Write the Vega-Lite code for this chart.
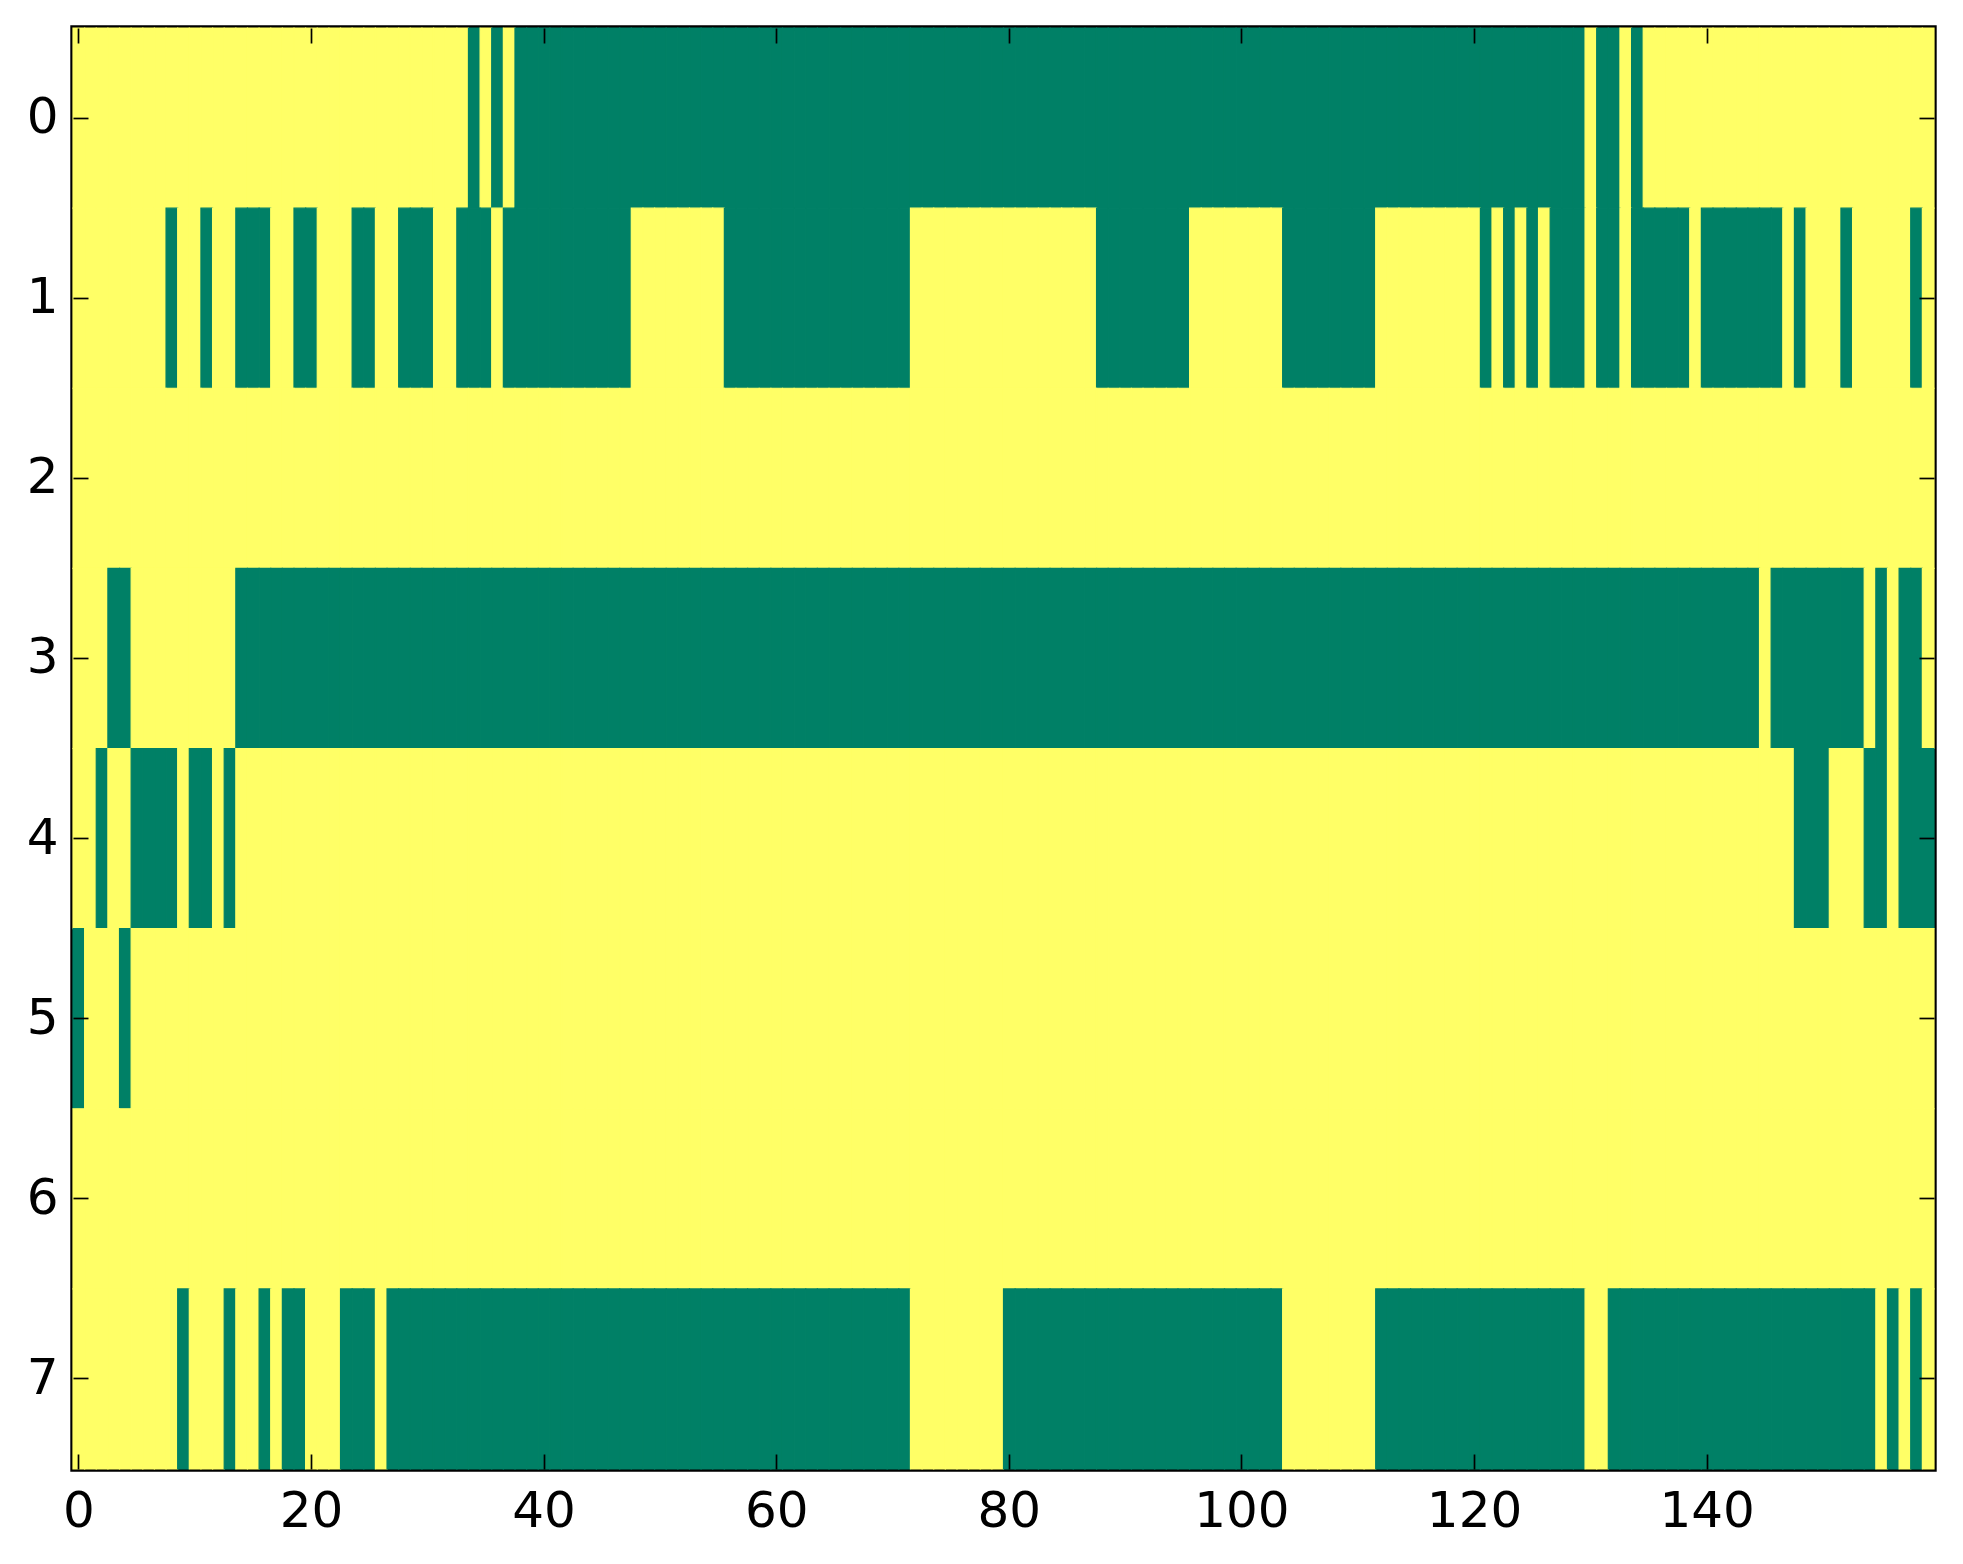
{
"$schema": "https://vega.github.io/schema/vega-lite/v6.json",
"width": 1861,
"height": 1441,
"autosize": {"type": "none"},
"padding": {"left": 73, "top": 28, "right": 29, "bottom": 95},
"background": "white",
"config": {
  "view": {"stroke": "black", "strokeWidth": 5.4},
  "axis": {"labelFont": "DejaVu Sans", "labelFontSize": 50, "labelColor": "black", "tickColor": "black", "tickWidth": 1.7, "tickSize": -15, "domain": false, "grid": false, "title": null}
},
"data": {"values": [
{"r":0,"c":0,"v":1},{"r":0,"c":1,"v":1},{"r":0,"c":2,"v":1},{"r":0,"c":3,"v":1},{"r":0,"c":4,"v":1},{"r":0,"c":5,"v":1},{"r":0,"c":6,"v":1},{"r":0,"c":7,"v":1},{"r":0,"c":8,"v":1},{"r":0,"c":9,"v":1},
{"r":0,"c":10,"v":1},{"r":0,"c":11,"v":1},{"r":0,"c":12,"v":1},{"r":0,"c":13,"v":1},{"r":0,"c":14,"v":1},{"r":0,"c":15,"v":1},{"r":0,"c":16,"v":1},{"r":0,"c":17,"v":1},{"r":0,"c":18,"v":1},{"r":0,"c":19,"v":1},
{"r":0,"c":20,"v":1},{"r":0,"c":21,"v":1},{"r":0,"c":22,"v":1},{"r":0,"c":23,"v":1},{"r":0,"c":24,"v":1},{"r":0,"c":25,"v":1},{"r":0,"c":26,"v":1},{"r":0,"c":27,"v":1},{"r":0,"c":28,"v":1},{"r":0,"c":29,"v":1},
{"r":0,"c":30,"v":1},{"r":0,"c":31,"v":1},{"r":0,"c":32,"v":1},{"r":0,"c":33,"v":1},{"r":0,"c":34,"v":0},{"r":0,"c":35,"v":1},{"r":0,"c":36,"v":0},{"r":0,"c":37,"v":1},{"r":0,"c":38,"v":0},{"r":0,"c":39,"v":0},
{"r":0,"c":40,"v":0},{"r":0,"c":41,"v":0},{"r":0,"c":42,"v":0},{"r":0,"c":43,"v":0},{"r":0,"c":44,"v":0},{"r":0,"c":45,"v":0},{"r":0,"c":46,"v":0},{"r":0,"c":47,"v":0},{"r":0,"c":48,"v":0},{"r":0,"c":49,"v":0},
{"r":0,"c":50,"v":0},{"r":0,"c":51,"v":0},{"r":0,"c":52,"v":0},{"r":0,"c":53,"v":0},{"r":0,"c":54,"v":0},{"r":0,"c":55,"v":0},{"r":0,"c":56,"v":0},{"r":0,"c":57,"v":0},{"r":0,"c":58,"v":0},{"r":0,"c":59,"v":0},
{"r":0,"c":60,"v":0},{"r":0,"c":61,"v":0},{"r":0,"c":62,"v":0},{"r":0,"c":63,"v":0},{"r":0,"c":64,"v":0},{"r":0,"c":65,"v":0},{"r":0,"c":66,"v":0},{"r":0,"c":67,"v":0},{"r":0,"c":68,"v":0},{"r":0,"c":69,"v":0},
{"r":0,"c":70,"v":0},{"r":0,"c":71,"v":0},{"r":0,"c":72,"v":0},{"r":0,"c":73,"v":0},{"r":0,"c":74,"v":0},{"r":0,"c":75,"v":0},{"r":0,"c":76,"v":0},{"r":0,"c":77,"v":0},{"r":0,"c":78,"v":0},{"r":0,"c":79,"v":0},
{"r":0,"c":80,"v":0},{"r":0,"c":81,"v":0},{"r":0,"c":82,"v":0},{"r":0,"c":83,"v":0},{"r":0,"c":84,"v":0},{"r":0,"c":85,"v":0},{"r":0,"c":86,"v":0},{"r":0,"c":87,"v":0},{"r":0,"c":88,"v":0},{"r":0,"c":89,"v":0},
{"r":0,"c":90,"v":0},{"r":0,"c":91,"v":0},{"r":0,"c":92,"v":0},{"r":0,"c":93,"v":0},{"r":0,"c":94,"v":0},{"r":0,"c":95,"v":0},{"r":0,"c":96,"v":0},{"r":0,"c":97,"v":0},{"r":0,"c":98,"v":0},{"r":0,"c":99,"v":0},
{"r":0,"c":100,"v":0},{"r":0,"c":101,"v":0},{"r":0,"c":102,"v":0},{"r":0,"c":103,"v":0},{"r":0,"c":104,"v":0},{"r":0,"c":105,"v":0},{"r":0,"c":106,"v":0},{"r":0,"c":107,"v":0},{"r":0,"c":108,"v":0},{"r":0,"c":109,"v":0},
{"r":0,"c":110,"v":0},{"r":0,"c":111,"v":0},{"r":0,"c":112,"v":0},{"r":0,"c":113,"v":0},{"r":0,"c":114,"v":0},{"r":0,"c":115,"v":0},{"r":0,"c":116,"v":0},{"r":0,"c":117,"v":0},{"r":0,"c":118,"v":0},{"r":0,"c":119,"v":0},
{"r":0,"c":120,"v":0},{"r":0,"c":121,"v":0},{"r":0,"c":122,"v":0},{"r":0,"c":123,"v":0},{"r":0,"c":124,"v":0},{"r":0,"c":125,"v":0},{"r":0,"c":126,"v":0},{"r":0,"c":127,"v":0},{"r":0,"c":128,"v":0},{"r":0,"c":129,"v":0},
{"r":0,"c":130,"v":1},{"r":0,"c":131,"v":0},{"r":0,"c":132,"v":0},{"r":0,"c":133,"v":1},{"r":0,"c":134,"v":0},{"r":0,"c":135,"v":1},{"r":0,"c":136,"v":1},{"r":0,"c":137,"v":1},{"r":0,"c":138,"v":1},{"r":0,"c":139,"v":1},
{"r":0,"c":140,"v":1},{"r":0,"c":141,"v":1},{"r":0,"c":142,"v":1},{"r":0,"c":143,"v":1},{"r":0,"c":144,"v":1},{"r":0,"c":145,"v":1},{"r":0,"c":146,"v":1},{"r":0,"c":147,"v":1},{"r":0,"c":148,"v":1},{"r":0,"c":149,"v":1},
{"r":0,"c":150,"v":1},{"r":0,"c":151,"v":1},{"r":0,"c":152,"v":1},{"r":0,"c":153,"v":1},{"r":0,"c":154,"v":1},{"r":0,"c":155,"v":1},{"r":0,"c":156,"v":1},{"r":0,"c":157,"v":1},{"r":0,"c":158,"v":1},{"r":0,"c":159,"v":1},
{"r":1,"c":0,"v":1},{"r":1,"c":1,"v":1},{"r":1,"c":2,"v":1},{"r":1,"c":3,"v":1},{"r":1,"c":4,"v":1},{"r":1,"c":5,"v":1},{"r":1,"c":6,"v":1},{"r":1,"c":7,"v":1},{"r":1,"c":8,"v":0},{"r":1,"c":9,"v":1},
{"r":1,"c":10,"v":1},{"r":1,"c":11,"v":0},{"r":1,"c":12,"v":1},{"r":1,"c":13,"v":1},{"r":1,"c":14,"v":0},{"r":1,"c":15,"v":0},{"r":1,"c":16,"v":0},{"r":1,"c":17,"v":1},{"r":1,"c":18,"v":1},{"r":1,"c":19,"v":0},
{"r":1,"c":20,"v":0},{"r":1,"c":21,"v":1},{"r":1,"c":22,"v":1},{"r":1,"c":23,"v":1},{"r":1,"c":24,"v":0},{"r":1,"c":25,"v":0},{"r":1,"c":26,"v":1},{"r":1,"c":27,"v":1},{"r":1,"c":28,"v":0},{"r":1,"c":29,"v":0},
{"r":1,"c":30,"v":0},{"r":1,"c":31,"v":1},{"r":1,"c":32,"v":1},{"r":1,"c":33,"v":0},{"r":1,"c":34,"v":0},{"r":1,"c":35,"v":0},{"r":1,"c":36,"v":1},{"r":1,"c":37,"v":0},{"r":1,"c":38,"v":0},{"r":1,"c":39,"v":0},
{"r":1,"c":40,"v":0},{"r":1,"c":41,"v":0},{"r":1,"c":42,"v":0},{"r":1,"c":43,"v":0},{"r":1,"c":44,"v":0},{"r":1,"c":45,"v":0},{"r":1,"c":46,"v":0},{"r":1,"c":47,"v":0},{"r":1,"c":48,"v":1},{"r":1,"c":49,"v":1},
{"r":1,"c":50,"v":1},{"r":1,"c":51,"v":1},{"r":1,"c":52,"v":1},{"r":1,"c":53,"v":1},{"r":1,"c":54,"v":1},{"r":1,"c":55,"v":1},{"r":1,"c":56,"v":0},{"r":1,"c":57,"v":0},{"r":1,"c":58,"v":0},{"r":1,"c":59,"v":0},
{"r":1,"c":60,"v":0},{"r":1,"c":61,"v":0},{"r":1,"c":62,"v":0},{"r":1,"c":63,"v":0},{"r":1,"c":64,"v":0},{"r":1,"c":65,"v":0},{"r":1,"c":66,"v":0},{"r":1,"c":67,"v":0},{"r":1,"c":68,"v":0},{"r":1,"c":69,"v":0},
{"r":1,"c":70,"v":0},{"r":1,"c":71,"v":0},{"r":1,"c":72,"v":1},{"r":1,"c":73,"v":1},{"r":1,"c":74,"v":1},{"r":1,"c":75,"v":1},{"r":1,"c":76,"v":1},{"r":1,"c":77,"v":1},{"r":1,"c":78,"v":1},{"r":1,"c":79,"v":1},
{"r":1,"c":80,"v":1},{"r":1,"c":81,"v":1},{"r":1,"c":82,"v":1},{"r":1,"c":83,"v":1},{"r":1,"c":84,"v":1},{"r":1,"c":85,"v":1},{"r":1,"c":86,"v":1},{"r":1,"c":87,"v":1},{"r":1,"c":88,"v":0},{"r":1,"c":89,"v":0},
{"r":1,"c":90,"v":0},{"r":1,"c":91,"v":0},{"r":1,"c":92,"v":0},{"r":1,"c":93,"v":0},{"r":1,"c":94,"v":0},{"r":1,"c":95,"v":0},{"r":1,"c":96,"v":1},{"r":1,"c":97,"v":1},{"r":1,"c":98,"v":1},{"r":1,"c":99,"v":1},
{"r":1,"c":100,"v":1},{"r":1,"c":101,"v":1},{"r":1,"c":102,"v":1},{"r":1,"c":103,"v":1},{"r":1,"c":104,"v":0},{"r":1,"c":105,"v":0},{"r":1,"c":106,"v":0},{"r":1,"c":107,"v":0},{"r":1,"c":108,"v":0},{"r":1,"c":109,"v":0},
{"r":1,"c":110,"v":0},{"r":1,"c":111,"v":0},{"r":1,"c":112,"v":1},{"r":1,"c":113,"v":1},{"r":1,"c":114,"v":1},{"r":1,"c":115,"v":1},{"r":1,"c":116,"v":1},{"r":1,"c":117,"v":1},{"r":1,"c":118,"v":1},{"r":1,"c":119,"v":1},
{"r":1,"c":120,"v":1},{"r":1,"c":121,"v":0},{"r":1,"c":122,"v":1},{"r":1,"c":123,"v":0},{"r":1,"c":124,"v":1},{"r":1,"c":125,"v":0},{"r":1,"c":126,"v":1},{"r":1,"c":127,"v":0},{"r":1,"c":128,"v":0},{"r":1,"c":129,"v":0},
{"r":1,"c":130,"v":1},{"r":1,"c":131,"v":0},{"r":1,"c":132,"v":0},{"r":1,"c":133,"v":1},{"r":1,"c":134,"v":0},{"r":1,"c":135,"v":0},{"r":1,"c":136,"v":0},{"r":1,"c":137,"v":0},{"r":1,"c":138,"v":0},{"r":1,"c":139,"v":1},
{"r":1,"c":140,"v":0},{"r":1,"c":141,"v":0},{"r":1,"c":142,"v":0},{"r":1,"c":143,"v":0},{"r":1,"c":144,"v":0},{"r":1,"c":145,"v":0},{"r":1,"c":146,"v":0},{"r":1,"c":147,"v":1},{"r":1,"c":148,"v":0},{"r":1,"c":149,"v":1},
{"r":1,"c":150,"v":1},{"r":1,"c":151,"v":1},{"r":1,"c":152,"v":0},{"r":1,"c":153,"v":1},{"r":1,"c":154,"v":1},{"r":1,"c":155,"v":1},{"r":1,"c":156,"v":1},{"r":1,"c":157,"v":1},{"r":1,"c":158,"v":0},{"r":1,"c":159,"v":1},
{"r":2,"c":0,"v":1},{"r":2,"c":1,"v":1},{"r":2,"c":2,"v":1},{"r":2,"c":3,"v":1},{"r":2,"c":4,"v":1},{"r":2,"c":5,"v":1},{"r":2,"c":6,"v":1},{"r":2,"c":7,"v":1},{"r":2,"c":8,"v":1},{"r":2,"c":9,"v":1},
{"r":2,"c":10,"v":1},{"r":2,"c":11,"v":1},{"r":2,"c":12,"v":1},{"r":2,"c":13,"v":1},{"r":2,"c":14,"v":1},{"r":2,"c":15,"v":1},{"r":2,"c":16,"v":1},{"r":2,"c":17,"v":1},{"r":2,"c":18,"v":1},{"r":2,"c":19,"v":1},
{"r":2,"c":20,"v":1},{"r":2,"c":21,"v":1},{"r":2,"c":22,"v":1},{"r":2,"c":23,"v":1},{"r":2,"c":24,"v":1},{"r":2,"c":25,"v":1},{"r":2,"c":26,"v":1},{"r":2,"c":27,"v":1},{"r":2,"c":28,"v":1},{"r":2,"c":29,"v":1},
{"r":2,"c":30,"v":1},{"r":2,"c":31,"v":1},{"r":2,"c":32,"v":1},{"r":2,"c":33,"v":1},{"r":2,"c":34,"v":1},{"r":2,"c":35,"v":1},{"r":2,"c":36,"v":1},{"r":2,"c":37,"v":1},{"r":2,"c":38,"v":1},{"r":2,"c":39,"v":1},
{"r":2,"c":40,"v":1},{"r":2,"c":41,"v":1},{"r":2,"c":42,"v":1},{"r":2,"c":43,"v":1},{"r":2,"c":44,"v":1},{"r":2,"c":45,"v":1},{"r":2,"c":46,"v":1},{"r":2,"c":47,"v":1},{"r":2,"c":48,"v":1},{"r":2,"c":49,"v":1},
{"r":2,"c":50,"v":1},{"r":2,"c":51,"v":1},{"r":2,"c":52,"v":1},{"r":2,"c":53,"v":1},{"r":2,"c":54,"v":1},{"r":2,"c":55,"v":1},{"r":2,"c":56,"v":1},{"r":2,"c":57,"v":1},{"r":2,"c":58,"v":1},{"r":2,"c":59,"v":1},
{"r":2,"c":60,"v":1},{"r":2,"c":61,"v":1},{"r":2,"c":62,"v":1},{"r":2,"c":63,"v":1},{"r":2,"c":64,"v":1},{"r":2,"c":65,"v":1},{"r":2,"c":66,"v":1},{"r":2,"c":67,"v":1},{"r":2,"c":68,"v":1},{"r":2,"c":69,"v":1},
{"r":2,"c":70,"v":1},{"r":2,"c":71,"v":1},{"r":2,"c":72,"v":1},{"r":2,"c":73,"v":1},{"r":2,"c":74,"v":1},{"r":2,"c":75,"v":1},{"r":2,"c":76,"v":1},{"r":2,"c":77,"v":1},{"r":2,"c":78,"v":1},{"r":2,"c":79,"v":1},
{"r":2,"c":80,"v":1},{"r":2,"c":81,"v":1},{"r":2,"c":82,"v":1},{"r":2,"c":83,"v":1},{"r":2,"c":84,"v":1},{"r":2,"c":85,"v":1},{"r":2,"c":86,"v":1},{"r":2,"c":87,"v":1},{"r":2,"c":88,"v":1},{"r":2,"c":89,"v":1},
{"r":2,"c":90,"v":1},{"r":2,"c":91,"v":1},{"r":2,"c":92,"v":1},{"r":2,"c":93,"v":1},{"r":2,"c":94,"v":1},{"r":2,"c":95,"v":1},{"r":2,"c":96,"v":1},{"r":2,"c":97,"v":1},{"r":2,"c":98,"v":1},{"r":2,"c":99,"v":1},
{"r":2,"c":100,"v":1},{"r":2,"c":101,"v":1},{"r":2,"c":102,"v":1},{"r":2,"c":103,"v":1},{"r":2,"c":104,"v":1},{"r":2,"c":105,"v":1},{"r":2,"c":106,"v":1},{"r":2,"c":107,"v":1},{"r":2,"c":108,"v":1},{"r":2,"c":109,"v":1},
{"r":2,"c":110,"v":1},{"r":2,"c":111,"v":1},{"r":2,"c":112,"v":1},{"r":2,"c":113,"v":1},{"r":2,"c":114,"v":1},{"r":2,"c":115,"v":1},{"r":2,"c":116,"v":1},{"r":2,"c":117,"v":1},{"r":2,"c":118,"v":1},{"r":2,"c":119,"v":1},
{"r":2,"c":120,"v":1},{"r":2,"c":121,"v":1},{"r":2,"c":122,"v":1},{"r":2,"c":123,"v":1},{"r":2,"c":124,"v":1},{"r":2,"c":125,"v":1},{"r":2,"c":126,"v":1},{"r":2,"c":127,"v":1},{"r":2,"c":128,"v":1},{"r":2,"c":129,"v":1},
{"r":2,"c":130,"v":1},{"r":2,"c":131,"v":1},{"r":2,"c":132,"v":1},{"r":2,"c":133,"v":1},{"r":2,"c":134,"v":1},{"r":2,"c":135,"v":1},{"r":2,"c":136,"v":1},{"r":2,"c":137,"v":1},{"r":2,"c":138,"v":1},{"r":2,"c":139,"v":1},
{"r":2,"c":140,"v":1},{"r":2,"c":141,"v":1},{"r":2,"c":142,"v":1},{"r":2,"c":143,"v":1},{"r":2,"c":144,"v":1},{"r":2,"c":145,"v":1},{"r":2,"c":146,"v":1},{"r":2,"c":147,"v":1},{"r":2,"c":148,"v":1},{"r":2,"c":149,"v":1},
{"r":2,"c":150,"v":1},{"r":2,"c":151,"v":1},{"r":2,"c":152,"v":1},{"r":2,"c":153,"v":1},{"r":2,"c":154,"v":1},{"r":2,"c":155,"v":1},{"r":2,"c":156,"v":1},{"r":2,"c":157,"v":1},{"r":2,"c":158,"v":1},{"r":2,"c":159,"v":1},
{"r":3,"c":0,"v":1},{"r":3,"c":1,"v":1},{"r":3,"c":2,"v":1},{"r":3,"c":3,"v":0},{"r":3,"c":4,"v":0},{"r":3,"c":5,"v":1},{"r":3,"c":6,"v":1},{"r":3,"c":7,"v":1},{"r":3,"c":8,"v":1},{"r":3,"c":9,"v":1},
{"r":3,"c":10,"v":1},{"r":3,"c":11,"v":1},{"r":3,"c":12,"v":1},{"r":3,"c":13,"v":1},{"r":3,"c":14,"v":0},{"r":3,"c":15,"v":0},{"r":3,"c":16,"v":0},{"r":3,"c":17,"v":0},{"r":3,"c":18,"v":0},{"r":3,"c":19,"v":0},
{"r":3,"c":20,"v":0},{"r":3,"c":21,"v":0},{"r":3,"c":22,"v":0},{"r":3,"c":23,"v":0},{"r":3,"c":24,"v":0},{"r":3,"c":25,"v":0},{"r":3,"c":26,"v":0},{"r":3,"c":27,"v":0},{"r":3,"c":28,"v":0},{"r":3,"c":29,"v":0},
{"r":3,"c":30,"v":0},{"r":3,"c":31,"v":0},{"r":3,"c":32,"v":0},{"r":3,"c":33,"v":0},{"r":3,"c":34,"v":0},{"r":3,"c":35,"v":0},{"r":3,"c":36,"v":0},{"r":3,"c":37,"v":0},{"r":3,"c":38,"v":0},{"r":3,"c":39,"v":0},
{"r":3,"c":40,"v":0},{"r":3,"c":41,"v":0},{"r":3,"c":42,"v":0},{"r":3,"c":43,"v":0},{"r":3,"c":44,"v":0},{"r":3,"c":45,"v":0},{"r":3,"c":46,"v":0},{"r":3,"c":47,"v":0},{"r":3,"c":48,"v":0},{"r":3,"c":49,"v":0},
{"r":3,"c":50,"v":0},{"r":3,"c":51,"v":0},{"r":3,"c":52,"v":0},{"r":3,"c":53,"v":0},{"r":3,"c":54,"v":0},{"r":3,"c":55,"v":0},{"r":3,"c":56,"v":0},{"r":3,"c":57,"v":0},{"r":3,"c":58,"v":0},{"r":3,"c":59,"v":0},
{"r":3,"c":60,"v":0},{"r":3,"c":61,"v":0},{"r":3,"c":62,"v":0},{"r":3,"c":63,"v":0},{"r":3,"c":64,"v":0},{"r":3,"c":65,"v":0},{"r":3,"c":66,"v":0},{"r":3,"c":67,"v":0},{"r":3,"c":68,"v":0},{"r":3,"c":69,"v":0},
{"r":3,"c":70,"v":0},{"r":3,"c":71,"v":0},{"r":3,"c":72,"v":0},{"r":3,"c":73,"v":0},{"r":3,"c":74,"v":0},{"r":3,"c":75,"v":0},{"r":3,"c":76,"v":0},{"r":3,"c":77,"v":0},{"r":3,"c":78,"v":0},{"r":3,"c":79,"v":0},
{"r":3,"c":80,"v":0},{"r":3,"c":81,"v":0},{"r":3,"c":82,"v":0},{"r":3,"c":83,"v":0},{"r":3,"c":84,"v":0},{"r":3,"c":85,"v":0},{"r":3,"c":86,"v":0},{"r":3,"c":87,"v":0},{"r":3,"c":88,"v":0},{"r":3,"c":89,"v":0},
{"r":3,"c":90,"v":0},{"r":3,"c":91,"v":0},{"r":3,"c":92,"v":0},{"r":3,"c":93,"v":0},{"r":3,"c":94,"v":0},{"r":3,"c":95,"v":0},{"r":3,"c":96,"v":0},{"r":3,"c":97,"v":0},{"r":3,"c":98,"v":0},{"r":3,"c":99,"v":0},
{"r":3,"c":100,"v":0},{"r":3,"c":101,"v":0},{"r":3,"c":102,"v":0},{"r":3,"c":103,"v":0},{"r":3,"c":104,"v":0},{"r":3,"c":105,"v":0},{"r":3,"c":106,"v":0},{"r":3,"c":107,"v":0},{"r":3,"c":108,"v":0},{"r":3,"c":109,"v":0},
{"r":3,"c":110,"v":0},{"r":3,"c":111,"v":0},{"r":3,"c":112,"v":0},{"r":3,"c":113,"v":0},{"r":3,"c":114,"v":0},{"r":3,"c":115,"v":0},{"r":3,"c":116,"v":0},{"r":3,"c":117,"v":0},{"r":3,"c":118,"v":0},{"r":3,"c":119,"v":0},
{"r":3,"c":120,"v":0},{"r":3,"c":121,"v":0},{"r":3,"c":122,"v":0},{"r":3,"c":123,"v":0},{"r":3,"c":124,"v":0},{"r":3,"c":125,"v":0},{"r":3,"c":126,"v":0},{"r":3,"c":127,"v":0},{"r":3,"c":128,"v":0},{"r":3,"c":129,"v":0},
{"r":3,"c":130,"v":0},{"r":3,"c":131,"v":0},{"r":3,"c":132,"v":0},{"r":3,"c":133,"v":0},{"r":3,"c":134,"v":0},{"r":3,"c":135,"v":0},{"r":3,"c":136,"v":0},{"r":3,"c":137,"v":0},{"r":3,"c":138,"v":0},{"r":3,"c":139,"v":0},
{"r":3,"c":140,"v":0},{"r":3,"c":141,"v":0},{"r":3,"c":142,"v":0},{"r":3,"c":143,"v":0},{"r":3,"c":144,"v":0},{"r":3,"c":145,"v":1},{"r":3,"c":146,"v":0},{"r":3,"c":147,"v":0},{"r":3,"c":148,"v":0},{"r":3,"c":149,"v":0},
{"r":3,"c":150,"v":0},{"r":3,"c":151,"v":0},{"r":3,"c":152,"v":0},{"r":3,"c":153,"v":0},{"r":3,"c":154,"v":1},{"r":3,"c":155,"v":0},{"r":3,"c":156,"v":1},{"r":3,"c":157,"v":0},{"r":3,"c":158,"v":0},{"r":3,"c":159,"v":1},
{"r":4,"c":0,"v":1},{"r":4,"c":1,"v":1},{"r":4,"c":2,"v":0},{"r":4,"c":3,"v":1},{"r":4,"c":4,"v":1},{"r":4,"c":5,"v":0},{"r":4,"c":6,"v":0},{"r":4,"c":7,"v":0},{"r":4,"c":8,"v":0},{"r":4,"c":9,"v":1},
{"r":4,"c":10,"v":0},{"r":4,"c":11,"v":0},{"r":4,"c":12,"v":1},{"r":4,"c":13,"v":0},{"r":4,"c":14,"v":1},{"r":4,"c":15,"v":1},{"r":4,"c":16,"v":1},{"r":4,"c":17,"v":1},{"r":4,"c":18,"v":1},{"r":4,"c":19,"v":1},
{"r":4,"c":20,"v":1},{"r":4,"c":21,"v":1},{"r":4,"c":22,"v":1},{"r":4,"c":23,"v":1},{"r":4,"c":24,"v":1},{"r":4,"c":25,"v":1},{"r":4,"c":26,"v":1},{"r":4,"c":27,"v":1},{"r":4,"c":28,"v":1},{"r":4,"c":29,"v":1},
{"r":4,"c":30,"v":1},{"r":4,"c":31,"v":1},{"r":4,"c":32,"v":1},{"r":4,"c":33,"v":1},{"r":4,"c":34,"v":1},{"r":4,"c":35,"v":1},{"r":4,"c":36,"v":1},{"r":4,"c":37,"v":1},{"r":4,"c":38,"v":1},{"r":4,"c":39,"v":1},
{"r":4,"c":40,"v":1},{"r":4,"c":41,"v":1},{"r":4,"c":42,"v":1},{"r":4,"c":43,"v":1},{"r":4,"c":44,"v":1},{"r":4,"c":45,"v":1},{"r":4,"c":46,"v":1},{"r":4,"c":47,"v":1},{"r":4,"c":48,"v":1},{"r":4,"c":49,"v":1},
{"r":4,"c":50,"v":1},{"r":4,"c":51,"v":1},{"r":4,"c":52,"v":1},{"r":4,"c":53,"v":1},{"r":4,"c":54,"v":1},{"r":4,"c":55,"v":1},{"r":4,"c":56,"v":1},{"r":4,"c":57,"v":1},{"r":4,"c":58,"v":1},{"r":4,"c":59,"v":1},
{"r":4,"c":60,"v":1},{"r":4,"c":61,"v":1},{"r":4,"c":62,"v":1},{"r":4,"c":63,"v":1},{"r":4,"c":64,"v":1},{"r":4,"c":65,"v":1},{"r":4,"c":66,"v":1},{"r":4,"c":67,"v":1},{"r":4,"c":68,"v":1},{"r":4,"c":69,"v":1},
{"r":4,"c":70,"v":1},{"r":4,"c":71,"v":1},{"r":4,"c":72,"v":1},{"r":4,"c":73,"v":1},{"r":4,"c":74,"v":1},{"r":4,"c":75,"v":1},{"r":4,"c":76,"v":1},{"r":4,"c":77,"v":1},{"r":4,"c":78,"v":1},{"r":4,"c":79,"v":1},
{"r":4,"c":80,"v":1},{"r":4,"c":81,"v":1},{"r":4,"c":82,"v":1},{"r":4,"c":83,"v":1},{"r":4,"c":84,"v":1},{"r":4,"c":85,"v":1},{"r":4,"c":86,"v":1},{"r":4,"c":87,"v":1},{"r":4,"c":88,"v":1},{"r":4,"c":89,"v":1},
{"r":4,"c":90,"v":1},{"r":4,"c":91,"v":1},{"r":4,"c":92,"v":1},{"r":4,"c":93,"v":1},{"r":4,"c":94,"v":1},{"r":4,"c":95,"v":1},{"r":4,"c":96,"v":1},{"r":4,"c":97,"v":1},{"r":4,"c":98,"v":1},{"r":4,"c":99,"v":1},
{"r":4,"c":100,"v":1},{"r":4,"c":101,"v":1},{"r":4,"c":102,"v":1},{"r":4,"c":103,"v":1},{"r":4,"c":104,"v":1},{"r":4,"c":105,"v":1},{"r":4,"c":106,"v":1},{"r":4,"c":107,"v":1},{"r":4,"c":108,"v":1},{"r":4,"c":109,"v":1},
{"r":4,"c":110,"v":1},{"r":4,"c":111,"v":1},{"r":4,"c":112,"v":1},{"r":4,"c":113,"v":1},{"r":4,"c":114,"v":1},{"r":4,"c":115,"v":1},{"r":4,"c":116,"v":1},{"r":4,"c":117,"v":1},{"r":4,"c":118,"v":1},{"r":4,"c":119,"v":1},
{"r":4,"c":120,"v":1},{"r":4,"c":121,"v":1},{"r":4,"c":122,"v":1},{"r":4,"c":123,"v":1},{"r":4,"c":124,"v":1},{"r":4,"c":125,"v":1},{"r":4,"c":126,"v":1},{"r":4,"c":127,"v":1},{"r":4,"c":128,"v":1},{"r":4,"c":129,"v":1},
{"r":4,"c":130,"v":1},{"r":4,"c":131,"v":1},{"r":4,"c":132,"v":1},{"r":4,"c":133,"v":1},{"r":4,"c":134,"v":1},{"r":4,"c":135,"v":1},{"r":4,"c":136,"v":1},{"r":4,"c":137,"v":1},{"r":4,"c":138,"v":1},{"r":4,"c":139,"v":1},
{"r":4,"c":140,"v":1},{"r":4,"c":141,"v":1},{"r":4,"c":142,"v":1},{"r":4,"c":143,"v":1},{"r":4,"c":144,"v":1},{"r":4,"c":145,"v":1},{"r":4,"c":146,"v":1},{"r":4,"c":147,"v":1},{"r":4,"c":148,"v":0},{"r":4,"c":149,"v":0},
{"r":4,"c":150,"v":0},{"r":4,"c":151,"v":1},{"r":4,"c":152,"v":1},{"r":4,"c":153,"v":1},{"r":4,"c":154,"v":0},{"r":4,"c":155,"v":0},{"r":4,"c":156,"v":1},{"r":4,"c":157,"v":0},{"r":4,"c":158,"v":0},{"r":4,"c":159,"v":0},
{"r":5,"c":0,"v":0},{"r":5,"c":1,"v":1},{"r":5,"c":2,"v":1},{"r":5,"c":3,"v":1},{"r":5,"c":4,"v":0},{"r":5,"c":5,"v":1},{"r":5,"c":6,"v":1},{"r":5,"c":7,"v":1},{"r":5,"c":8,"v":1},{"r":5,"c":9,"v":1},
{"r":5,"c":10,"v":1},{"r":5,"c":11,"v":1},{"r":5,"c":12,"v":1},{"r":5,"c":13,"v":1},{"r":5,"c":14,"v":1},{"r":5,"c":15,"v":1},{"r":5,"c":16,"v":1},{"r":5,"c":17,"v":1},{"r":5,"c":18,"v":1},{"r":5,"c":19,"v":1},
{"r":5,"c":20,"v":1},{"r":5,"c":21,"v":1},{"r":5,"c":22,"v":1},{"r":5,"c":23,"v":1},{"r":5,"c":24,"v":1},{"r":5,"c":25,"v":1},{"r":5,"c":26,"v":1},{"r":5,"c":27,"v":1},{"r":5,"c":28,"v":1},{"r":5,"c":29,"v":1},
{"r":5,"c":30,"v":1},{"r":5,"c":31,"v":1},{"r":5,"c":32,"v":1},{"r":5,"c":33,"v":1},{"r":5,"c":34,"v":1},{"r":5,"c":35,"v":1},{"r":5,"c":36,"v":1},{"r":5,"c":37,"v":1},{"r":5,"c":38,"v":1},{"r":5,"c":39,"v":1},
{"r":5,"c":40,"v":1},{"r":5,"c":41,"v":1},{"r":5,"c":42,"v":1},{"r":5,"c":43,"v":1},{"r":5,"c":44,"v":1},{"r":5,"c":45,"v":1},{"r":5,"c":46,"v":1},{"r":5,"c":47,"v":1},{"r":5,"c":48,"v":1},{"r":5,"c":49,"v":1},
{"r":5,"c":50,"v":1},{"r":5,"c":51,"v":1},{"r":5,"c":52,"v":1},{"r":5,"c":53,"v":1},{"r":5,"c":54,"v":1},{"r":5,"c":55,"v":1},{"r":5,"c":56,"v":1},{"r":5,"c":57,"v":1},{"r":5,"c":58,"v":1},{"r":5,"c":59,"v":1},
{"r":5,"c":60,"v":1},{"r":5,"c":61,"v":1},{"r":5,"c":62,"v":1},{"r":5,"c":63,"v":1},{"r":5,"c":64,"v":1},{"r":5,"c":65,"v":1},{"r":5,"c":66,"v":1},{"r":5,"c":67,"v":1},{"r":5,"c":68,"v":1},{"r":5,"c":69,"v":1},
{"r":5,"c":70,"v":1},{"r":5,"c":71,"v":1},{"r":5,"c":72,"v":1},{"r":5,"c":73,"v":1},{"r":5,"c":74,"v":1},{"r":5,"c":75,"v":1},{"r":5,"c":76,"v":1},{"r":5,"c":77,"v":1},{"r":5,"c":78,"v":1},{"r":5,"c":79,"v":1},
{"r":5,"c":80,"v":1},{"r":5,"c":81,"v":1},{"r":5,"c":82,"v":1},{"r":5,"c":83,"v":1},{"r":5,"c":84,"v":1},{"r":5,"c":85,"v":1},{"r":5,"c":86,"v":1},{"r":5,"c":87,"v":1},{"r":5,"c":88,"v":1},{"r":5,"c":89,"v":1},
{"r":5,"c":90,"v":1},{"r":5,"c":91,"v":1},{"r":5,"c":92,"v":1},{"r":5,"c":93,"v":1},{"r":5,"c":94,"v":1},{"r":5,"c":95,"v":1},{"r":5,"c":96,"v":1},{"r":5,"c":97,"v":1},{"r":5,"c":98,"v":1},{"r":5,"c":99,"v":1},
{"r":5,"c":100,"v":1},{"r":5,"c":101,"v":1},{"r":5,"c":102,"v":1},{"r":5,"c":103,"v":1},{"r":5,"c":104,"v":1},{"r":5,"c":105,"v":1},{"r":5,"c":106,"v":1},{"r":5,"c":107,"v":1},{"r":5,"c":108,"v":1},{"r":5,"c":109,"v":1},
{"r":5,"c":110,"v":1},{"r":5,"c":111,"v":1},{"r":5,"c":112,"v":1},{"r":5,"c":113,"v":1},{"r":5,"c":114,"v":1},{"r":5,"c":115,"v":1},{"r":5,"c":116,"v":1},{"r":5,"c":117,"v":1},{"r":5,"c":118,"v":1},{"r":5,"c":119,"v":1},
{"r":5,"c":120,"v":1},{"r":5,"c":121,"v":1},{"r":5,"c":122,"v":1},{"r":5,"c":123,"v":1},{"r":5,"c":124,"v":1},{"r":5,"c":125,"v":1},{"r":5,"c":126,"v":1},{"r":5,"c":127,"v":1},{"r":5,"c":128,"v":1},{"r":5,"c":129,"v":1},
{"r":5,"c":130,"v":1},{"r":5,"c":131,"v":1},{"r":5,"c":132,"v":1},{"r":5,"c":133,"v":1},{"r":5,"c":134,"v":1},{"r":5,"c":135,"v":1},{"r":5,"c":136,"v":1},{"r":5,"c":137,"v":1},{"r":5,"c":138,"v":1},{"r":5,"c":139,"v":1},
{"r":5,"c":140,"v":1},{"r":5,"c":141,"v":1},{"r":5,"c":142,"v":1},{"r":5,"c":143,"v":1},{"r":5,"c":144,"v":1},{"r":5,"c":145,"v":1},{"r":5,"c":146,"v":1},{"r":5,"c":147,"v":1},{"r":5,"c":148,"v":1},{"r":5,"c":149,"v":1},
{"r":5,"c":150,"v":1},{"r":5,"c":151,"v":1},{"r":5,"c":152,"v":1},{"r":5,"c":153,"v":1},{"r":5,"c":154,"v":1},{"r":5,"c":155,"v":1},{"r":5,"c":156,"v":1},{"r":5,"c":157,"v":1},{"r":5,"c":158,"v":1},{"r":5,"c":159,"v":1},
{"r":6,"c":0,"v":1},{"r":6,"c":1,"v":1},{"r":6,"c":2,"v":1},{"r":6,"c":3,"v":1},{"r":6,"c":4,"v":1},{"r":6,"c":5,"v":1},{"r":6,"c":6,"v":1},{"r":6,"c":7,"v":1},{"r":6,"c":8,"v":1},{"r":6,"c":9,"v":1},
{"r":6,"c":10,"v":1},{"r":6,"c":11,"v":1},{"r":6,"c":12,"v":1},{"r":6,"c":13,"v":1},{"r":6,"c":14,"v":1},{"r":6,"c":15,"v":1},{"r":6,"c":16,"v":1},{"r":6,"c":17,"v":1},{"r":6,"c":18,"v":1},{"r":6,"c":19,"v":1},
{"r":6,"c":20,"v":1},{"r":6,"c":21,"v":1},{"r":6,"c":22,"v":1},{"r":6,"c":23,"v":1},{"r":6,"c":24,"v":1},{"r":6,"c":25,"v":1},{"r":6,"c":26,"v":1},{"r":6,"c":27,"v":1},{"r":6,"c":28,"v":1},{"r":6,"c":29,"v":1},
{"r":6,"c":30,"v":1},{"r":6,"c":31,"v":1},{"r":6,"c":32,"v":1},{"r":6,"c":33,"v":1},{"r":6,"c":34,"v":1},{"r":6,"c":35,"v":1},{"r":6,"c":36,"v":1},{"r":6,"c":37,"v":1},{"r":6,"c":38,"v":1},{"r":6,"c":39,"v":1},
{"r":6,"c":40,"v":1},{"r":6,"c":41,"v":1},{"r":6,"c":42,"v":1},{"r":6,"c":43,"v":1},{"r":6,"c":44,"v":1},{"r":6,"c":45,"v":1},{"r":6,"c":46,"v":1},{"r":6,"c":47,"v":1},{"r":6,"c":48,"v":1},{"r":6,"c":49,"v":1},
{"r":6,"c":50,"v":1},{"r":6,"c":51,"v":1},{"r":6,"c":52,"v":1},{"r":6,"c":53,"v":1},{"r":6,"c":54,"v":1},{"r":6,"c":55,"v":1},{"r":6,"c":56,"v":1},{"r":6,"c":57,"v":1},{"r":6,"c":58,"v":1},{"r":6,"c":59,"v":1},
{"r":6,"c":60,"v":1},{"r":6,"c":61,"v":1},{"r":6,"c":62,"v":1},{"r":6,"c":63,"v":1},{"r":6,"c":64,"v":1},{"r":6,"c":65,"v":1},{"r":6,"c":66,"v":1},{"r":6,"c":67,"v":1},{"r":6,"c":68,"v":1},{"r":6,"c":69,"v":1},
{"r":6,"c":70,"v":1},{"r":6,"c":71,"v":1},{"r":6,"c":72,"v":1},{"r":6,"c":73,"v":1},{"r":6,"c":74,"v":1},{"r":6,"c":75,"v":1},{"r":6,"c":76,"v":1},{"r":6,"c":77,"v":1},{"r":6,"c":78,"v":1},{"r":6,"c":79,"v":1},
{"r":6,"c":80,"v":1},{"r":6,"c":81,"v":1},{"r":6,"c":82,"v":1},{"r":6,"c":83,"v":1},{"r":6,"c":84,"v":1},{"r":6,"c":85,"v":1},{"r":6,"c":86,"v":1},{"r":6,"c":87,"v":1},{"r":6,"c":88,"v":1},{"r":6,"c":89,"v":1},
{"r":6,"c":90,"v":1},{"r":6,"c":91,"v":1},{"r":6,"c":92,"v":1},{"r":6,"c":93,"v":1},{"r":6,"c":94,"v":1},{"r":6,"c":95,"v":1},{"r":6,"c":96,"v":1},{"r":6,"c":97,"v":1},{"r":6,"c":98,"v":1},{"r":6,"c":99,"v":1},
{"r":6,"c":100,"v":1},{"r":6,"c":101,"v":1},{"r":6,"c":102,"v":1},{"r":6,"c":103,"v":1},{"r":6,"c":104,"v":1},{"r":6,"c":105,"v":1},{"r":6,"c":106,"v":1},{"r":6,"c":107,"v":1},{"r":6,"c":108,"v":1},{"r":6,"c":109,"v":1},
{"r":6,"c":110,"v":1},{"r":6,"c":111,"v":1},{"r":6,"c":112,"v":1},{"r":6,"c":113,"v":1},{"r":6,"c":114,"v":1},{"r":6,"c":115,"v":1},{"r":6,"c":116,"v":1},{"r":6,"c":117,"v":1},{"r":6,"c":118,"v":1},{"r":6,"c":119,"v":1},
{"r":6,"c":120,"v":1},{"r":6,"c":121,"v":1},{"r":6,"c":122,"v":1},{"r":6,"c":123,"v":1},{"r":6,"c":124,"v":1},{"r":6,"c":125,"v":1},{"r":6,"c":126,"v":1},{"r":6,"c":127,"v":1},{"r":6,"c":128,"v":1},{"r":6,"c":129,"v":1},
{"r":6,"c":130,"v":1},{"r":6,"c":131,"v":1},{"r":6,"c":132,"v":1},{"r":6,"c":133,"v":1},{"r":6,"c":134,"v":1},{"r":6,"c":135,"v":1},{"r":6,"c":136,"v":1},{"r":6,"c":137,"v":1},{"r":6,"c":138,"v":1},{"r":6,"c":139,"v":1},
{"r":6,"c":140,"v":1},{"r":6,"c":141,"v":1},{"r":6,"c":142,"v":1},{"r":6,"c":143,"v":1},{"r":6,"c":144,"v":1},{"r":6,"c":145,"v":1},{"r":6,"c":146,"v":1},{"r":6,"c":147,"v":1},{"r":6,"c":148,"v":1},{"r":6,"c":149,"v":1},
{"r":6,"c":150,"v":1},{"r":6,"c":151,"v":1},{"r":6,"c":152,"v":1},{"r":6,"c":153,"v":1},{"r":6,"c":154,"v":1},{"r":6,"c":155,"v":1},{"r":6,"c":156,"v":1},{"r":6,"c":157,"v":1},{"r":6,"c":158,"v":1},{"r":6,"c":159,"v":1},
{"r":7,"c":0,"v":1},{"r":7,"c":1,"v":1},{"r":7,"c":2,"v":1},{"r":7,"c":3,"v":1},{"r":7,"c":4,"v":1},{"r":7,"c":5,"v":1},{"r":7,"c":6,"v":1},{"r":7,"c":7,"v":1},{"r":7,"c":8,"v":1},{"r":7,"c":9,"v":0},
{"r":7,"c":10,"v":1},{"r":7,"c":11,"v":1},{"r":7,"c":12,"v":1},{"r":7,"c":13,"v":0},{"r":7,"c":14,"v":1},{"r":7,"c":15,"v":1},{"r":7,"c":16,"v":0},{"r":7,"c":17,"v":1},{"r":7,"c":18,"v":0},{"r":7,"c":19,"v":0},
{"r":7,"c":20,"v":1},{"r":7,"c":21,"v":1},{"r":7,"c":22,"v":1},{"r":7,"c":23,"v":0},{"r":7,"c":24,"v":0},{"r":7,"c":25,"v":0},{"r":7,"c":26,"v":1},{"r":7,"c":27,"v":0},{"r":7,"c":28,"v":0},{"r":7,"c":29,"v":0},
{"r":7,"c":30,"v":0},{"r":7,"c":31,"v":0},{"r":7,"c":32,"v":0},{"r":7,"c":33,"v":0},{"r":7,"c":34,"v":0},{"r":7,"c":35,"v":0},{"r":7,"c":36,"v":0},{"r":7,"c":37,"v":0},{"r":7,"c":38,"v":0},{"r":7,"c":39,"v":0},
{"r":7,"c":40,"v":0},{"r":7,"c":41,"v":0},{"r":7,"c":42,"v":0},{"r":7,"c":43,"v":0},{"r":7,"c":44,"v":0},{"r":7,"c":45,"v":0},{"r":7,"c":46,"v":0},{"r":7,"c":47,"v":0},{"r":7,"c":48,"v":0},{"r":7,"c":49,"v":0},
{"r":7,"c":50,"v":0},{"r":7,"c":51,"v":0},{"r":7,"c":52,"v":0},{"r":7,"c":53,"v":0},{"r":7,"c":54,"v":0},{"r":7,"c":55,"v":0},{"r":7,"c":56,"v":0},{"r":7,"c":57,"v":0},{"r":7,"c":58,"v":0},{"r":7,"c":59,"v":0},
{"r":7,"c":60,"v":0},{"r":7,"c":61,"v":0},{"r":7,"c":62,"v":0},{"r":7,"c":63,"v":0},{"r":7,"c":64,"v":0},{"r":7,"c":65,"v":0},{"r":7,"c":66,"v":0},{"r":7,"c":67,"v":0},{"r":7,"c":68,"v":0},{"r":7,"c":69,"v":0},
{"r":7,"c":70,"v":0},{"r":7,"c":71,"v":0},{"r":7,"c":72,"v":1},{"r":7,"c":73,"v":1},{"r":7,"c":74,"v":1},{"r":7,"c":75,"v":1},{"r":7,"c":76,"v":1},{"r":7,"c":77,"v":1},{"r":7,"c":78,"v":1},{"r":7,"c":79,"v":1},
{"r":7,"c":80,"v":0},{"r":7,"c":81,"v":0},{"r":7,"c":82,"v":0},{"r":7,"c":83,"v":0},{"r":7,"c":84,"v":0},{"r":7,"c":85,"v":0},{"r":7,"c":86,"v":0},{"r":7,"c":87,"v":0},{"r":7,"c":88,"v":0},{"r":7,"c":89,"v":0},
{"r":7,"c":90,"v":0},{"r":7,"c":91,"v":0},{"r":7,"c":92,"v":0},{"r":7,"c":93,"v":0},{"r":7,"c":94,"v":0},{"r":7,"c":95,"v":0},{"r":7,"c":96,"v":0},{"r":7,"c":97,"v":0},{"r":7,"c":98,"v":0},{"r":7,"c":99,"v":0},
{"r":7,"c":100,"v":0},{"r":7,"c":101,"v":0},{"r":7,"c":102,"v":0},{"r":7,"c":103,"v":0},{"r":7,"c":104,"v":1},{"r":7,"c":105,"v":1},{"r":7,"c":106,"v":1},{"r":7,"c":107,"v":1},{"r":7,"c":108,"v":1},{"r":7,"c":109,"v":1},
{"r":7,"c":110,"v":1},{"r":7,"c":111,"v":1},{"r":7,"c":112,"v":0},{"r":7,"c":113,"v":0},{"r":7,"c":114,"v":0},{"r":7,"c":115,"v":0},{"r":7,"c":116,"v":0},{"r":7,"c":117,"v":0},{"r":7,"c":118,"v":0},{"r":7,"c":119,"v":0},
{"r":7,"c":120,"v":0},{"r":7,"c":121,"v":0},{"r":7,"c":122,"v":0},{"r":7,"c":123,"v":0},{"r":7,"c":124,"v":0},{"r":7,"c":125,"v":0},{"r":7,"c":126,"v":0},{"r":7,"c":127,"v":0},{"r":7,"c":128,"v":0},{"r":7,"c":129,"v":0},
{"r":7,"c":130,"v":1},{"r":7,"c":131,"v":1},{"r":7,"c":132,"v":0},{"r":7,"c":133,"v":0},{"r":7,"c":134,"v":0},{"r":7,"c":135,"v":0},{"r":7,"c":136,"v":0},{"r":7,"c":137,"v":0},{"r":7,"c":138,"v":0},{"r":7,"c":139,"v":0},
{"r":7,"c":140,"v":0},{"r":7,"c":141,"v":0},{"r":7,"c":142,"v":0},{"r":7,"c":143,"v":0},{"r":7,"c":144,"v":0},{"r":7,"c":145,"v":0},{"r":7,"c":146,"v":0},{"r":7,"c":147,"v":0},{"r":7,"c":148,"v":0},{"r":7,"c":149,"v":0},
{"r":7,"c":150,"v":0},{"r":7,"c":151,"v":0},{"r":7,"c":152,"v":0},{"r":7,"c":153,"v":0},{"r":7,"c":154,"v":0},{"r":7,"c":155,"v":1},{"r":7,"c":156,"v":0},{"r":7,"c":157,"v":1},{"r":7,"c":158,"v":0},{"r":7,"c":159,"v":1}
]},
"layer": [
  {
    "mark": {"type": "rect", "strokeWidth": 1.2},
    "encoding": {
      "x": {"field": "c", "type": "ordinal", "scale": {"paddingInner": 0, "paddingOuter": 0},
            "axis": {"orient": "bottom", "values": [0,20,40,60,80,100,120,140], "labelAngle": 0, "labelPadding": 32}},
      "y": {"field": "r", "type": "ordinal", "scale": {"paddingInner": 0, "paddingOuter": 0},
            "axis": {"orient": "left", "labelPadding": 30}},
      "fill": {"field": "v", "type": "nominal", "scale": {"domain": [0, 1], "range": ["#008066", "#ffff66"]}, "legend": null},
      "stroke": {"field": "v", "type": "nominal", "scale": {"domain": [0, 1], "range": ["#008066", "#ffff66"]}, "legend": null}
    }
  },
  {
    "mark": {"type": "rect", "fillOpacity": 0, "strokeOpacity": 0},
    "encoding": {
      "x": {"field": "c", "type": "ordinal", "axis": {"orient": "top", "values": [0,20,40,60,80,100,120,140], "labels": false}},
      "y": {"field": "r", "type": "ordinal", "axis": {"orient": "right", "labels": false}}
    }
  }
],
"resolve": {"axis": {"x": "independent", "y": "independent"}}
}
